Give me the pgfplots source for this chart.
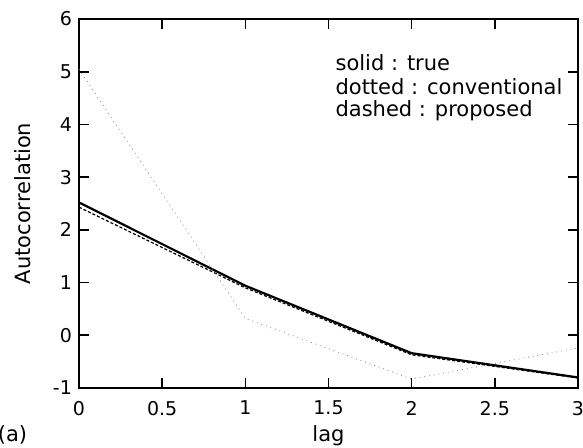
\documentclass[border=0pt]{standalone}
\usepackage{fontspec}
\setmainfont{DejaVu Sans}
\usepackage{pgfplots}
\pgfplotsset{compat=1.18}
\begin{document}
\begin{tikzpicture}
\useasboundingbox (-39.5pt,-30pt) rectangle (252pt,194pt);
\begin{axis}[
  at={(0,0)}, anchor=south west,
  scale only axis, width=249.5pt, height=184.5pt,
  xmin=0, xmax=3, ymin=-1, ymax=6,
  xtick={0,0.5,...,3}, ytick={-1,0,...,6},
  tick align=inside, major tick length=5pt,
  axis line style={line width=1pt},
  every tick/.style={black, line width=0.8pt},
  /pgf/number format/assume math mode=true,
  ticklabel style={font=\fontsize{9.5}{11}\selectfont},
  xticklabel style={yshift=-3pt},
  xlabel={lag}, ylabel={Autocorrelation},
  xlabel style={font=\fontsize{10.5}{12}\selectfont, yshift=2pt},
  ylabel style={font=\fontsize{10.5}{12}\selectfont, yshift=4pt},
  clip=false,
]
\addplot[black, line width=1.1pt] coordinates {(0,2.52) (1,0.94) (2,-0.34) (3,-0.80)};
\addplot[black, line width=0.6pt, dash pattern=on 1.5pt off 1pt] coordinates {(0,2.43) (1,0.90) (2,-0.37) (3,-0.81)};
\addplot[gray, line width=0.4pt, dotted] coordinates {(0,5.05) (1,0.32) (2,-0.83) (3,-0.24)};
\node[anchor=west, font=\fontsize{10.5}{12}\selectfont] at (axis cs:1.50,5.17) {solid : true};
\node[anchor=west, font=\fontsize{10.5}{12}\selectfont] at (axis cs:1.50,4.71) {dotted : conventional};
\node[anchor=west, font=\fontsize{10.5}{12}\selectfont] at (axis cs:1.50,4.26) {dashed : proposed};
\node[font=\fontsize{10.5}{12}\selectfont] at (axis cs:-0.40,-1.89) {(a)};
\end{axis}
\end{tikzpicture}
\end{document}
